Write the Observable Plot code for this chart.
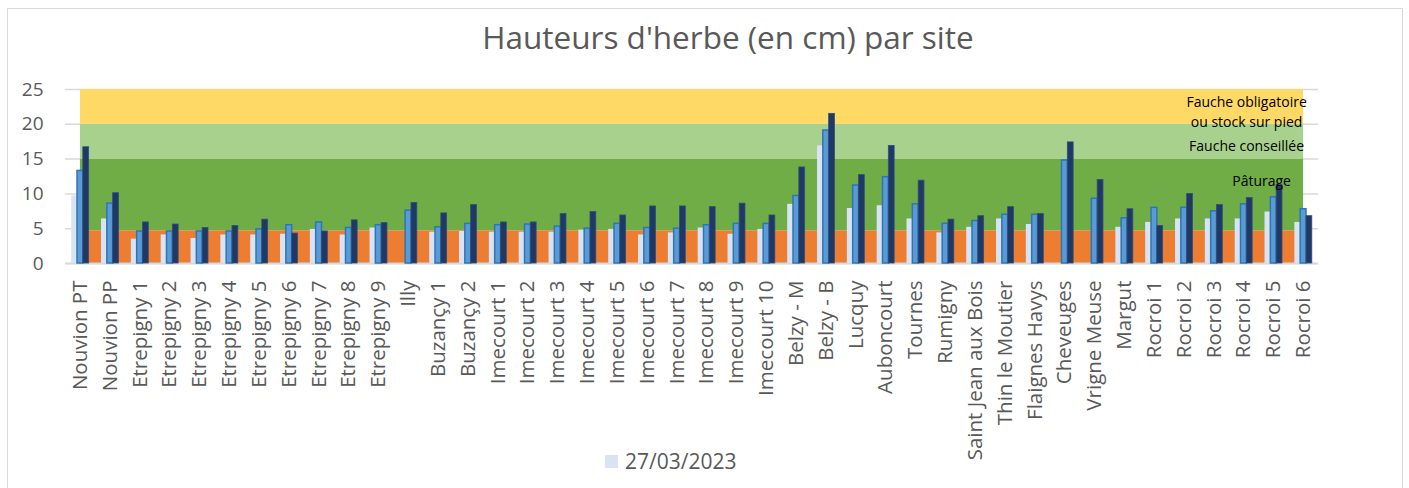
<!DOCTYPE html>
<html><head><meta charset="utf-8">
<script src="https://cdn.jsdelivr.net/npm/d3@7"></script>
<script src="https://cdn.jsdelivr.net/npm/@observablehq/plot@0.6"></script>
<style>
body{margin:0;background:#fff;font-family:"Open Sans",sans-serif;}
#frame{position:absolute;left:7px;top:8px;width:1396px;height:495px;border:1.5px solid #d9d9d9;box-sizing:border-box;}
#title{position:absolute;left:0;top:15px;width:1456px;text-align:center;font-size:31.5px;color:#595959;line-height:44px;}
#chart{position:absolute;left:0;top:60px;}
#legend{position:absolute;left:605px;top:447px;font-size:21px;color:#595959;display:flex;align-items:center;line-height:28px;}
#legend span.sw{display:inline-block;width:13px;height:13px;background:#dae3f3;margin-right:7px;}
</style></head><body>
<div id="frame"></div>
<div id="title">Hauteurs d'herbe (en cm) par site</div>
<div id="chart"></div>
<div id="legend"><span class="sw"></span><span id="legtext"></span></div>
<script>
const sites = ["Nouvion PT","Nouvion PP","Etrepigny 1","Etrepigny 2","Etrepigny 3","Etrepigny 4","Etrepigny 5","Etrepigny 6","Etrepigny 7","Etrepigny 8","Etrepigny 9","Illy","Buzançy 1","Buzançy 2","Imecourt 1","Imecourt 2","Imecourt 3","Imecourt 4","Imecourt 5","Imecourt 6","Imecourt 7","Imecourt 8","Imecourt 9","Imecourt 10","Belzy - M","Belzy - B","Lucquy","Auboncourt","Tournes","Rumigny","Saint Jean aux Bois","Thin le Moutier","Flaignes Havys","Cheveuges","Vrigne Meuse","Margut","Rocroi 1","Rocroi 2","Rocroi 3","Rocroi 4","Rocroi 5","Rocroi 6"];
const serie1 = [9.7,6.4,3.5,4.1,3.6,4.1,4.1,4.2,4.9,4.1, 5.1,null,4.5,4.6,4.5,4.5,4.5,4.8,4.9,4.1, 4.4,5.1,4.2,4.9,8.5,16.9,7.9,8.3,6.4,4.4, 5.2,6.4,5.6,null,null,5.2,5.9,6.4,6.4,6.4, 7.4,5.9];
const serie2 = [13.3,8.6,4.6,4.6,4.6,4.6,4.9,5.5,5.9,5.1, 5.5,7.6,5.2,5.7,5.5,5.6,5.3,5.0,5.7,5.1, 5.0,5.5,5.7,5.7,9.7,19.1,11.2,12.4,8.5,5.7, 6.1,7.0,7.0,14.8,9.3,6.5,8.0,8.0,7.5,8.5, 9.5,7.8];
const serie3 = [16.7,10.1,5.9,5.6,5.1,5.4,6.3,4.3,4.6,6.2, 5.8,8.7,7.2,8.4,5.9,5.9,7.1,7.4,6.9,8.2, 8.2,8.1,8.6,6.9,13.8,21.5,12.7,16.9,11.9,6.3, 6.8,8.1,7.1,17.4,12.0,7.8,5.4,10.0,8.4,9.4, 11.3,6.8];
const legendLabel = "27/03/2023";
const yTicks = [0,5,10,15,20,25];
const zoneLow = [0, 4.7, 15, 20];
const zoneHigh = [4.7, 15, 20, 25];
const zoneLabels = ["Fauche obligatoire","ou stock sur pied","Fauche conseillée","Pâturage"];
const zoneLabelY = [23.2, 20.3, 16.85, 11.8];

document.getElementById("legtext").textContent = legendLabel;

const zoneColors = ["#ed7d31","#70ad47","#a9d18e","#ffd966"];
const zones = zoneLow.map((lo,i)=>({lo, hi: zoneHigh[i], c: zoneColors[i]}));
const idx = sites.map((s,i)=>i);
const last = sites.length - 1;
const w = 0.195;
const mk = (arr,k) => arr.map((v,i)=>({i, v, x1: i - 1.5*w + k*w, x2: i - 1.5*w + (k+1)*w})).filter(d=>d.v!=null);
const b1 = mk(serie1,0), b2 = mk(serie2,1), b3 = mk(serie3,2);
const labs = zoneLabels.map((t,j)=>({t, y: zoneLabelY[j]}));

const chart = Plot.plot({
  width: 1409, height: 412,
  marginLeft: 65, marginRight: 91, marginTop: 29, marginBottom: 209,
  style: {fontFamily: "Open Sans", background: "transparent"},
  x: {type: "linear", domain: [-0.5, sites.length - 0.5], axis: null},
  y: {domain: [0, 25], axis: null},
  marks: [
    Plot.gridY(yTicks, {stroke: "#d9d9d9", strokeOpacity: 1, strokeWidth: 1.5}),
    Plot.rect(zones, {x1: () => 0, x2: () => last, y1: "lo", y2: "hi", fill: "c"}),
    Plot.ruleY([0], {stroke: "#d9d9d9", strokeWidth: 2}),
    Plot.rectY(b1, {x1: "x1", x2: "x2", y: "v", fill: "#dae3f3"}),
    Plot.rectY(b2, {x1: "x1", x2: "x2", y: "v", fill: "#5b9bd5", stroke: "#2e75b6", strokeWidth: 1.5}),
    Plot.rectY(b3, {x1: "x1", x2: "x2", y: "v", fill: "#203864", stroke: "#2f4f80", strokeWidth: 0.8}),
    Plot.text(labs.slice(0,3), {x: () => last, y: "y", text: "t", dx: -57, textAnchor: "middle", fontSize: 14, fill: "#000"}),
    Plot.text(labs.slice(3), {x: () => last, y: "y", text: "t", dx: -42, textAnchor: "middle", fontSize: 14, fill: "#000"}),
    Plot.axisY(yTicks, {tickSize: 0, tickPadding: 22, fontSize: 19, fill: "#595959"}),
    Plot.axisX(idx, {tickSize: 0, tickPadding: 17, tickRotate: -90, tickFormat: i => sites[i], fontSize: 20.5, fill: "#595959"})
  ]
});
document.getElementById("chart").appendChild(chart);
</script>
</body></html>
